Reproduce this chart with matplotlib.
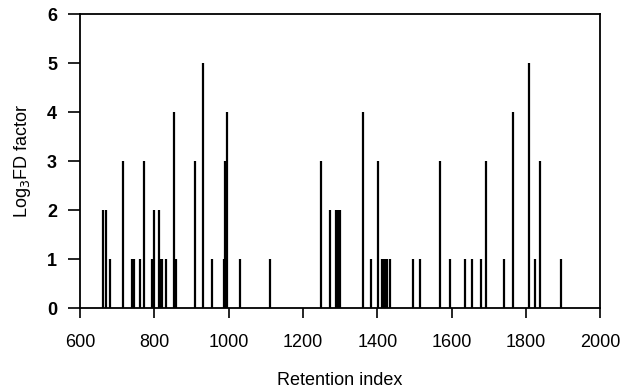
import matplotlib
matplotlib.use("Agg")
import matplotlib.pyplot as plt

plt.rcParams['font.family'] = ['Liberation Sans', 'DejaVu Sans']

# retention indices and log3 FD factors
ri = [662, 670, 682, 717, 741, 746, 762, 772, 794, 799, 814, 817, 822, 833,
      852, 859, 910, 932, 955, 987, 990, 997, 1032, 1111, 1249, 1273, 1290,
      1295, 1300, 1363, 1383, 1402, 1412, 1418, 1423, 1427, 1434, 1495, 1514,
      1569, 1595, 1636, 1656, 1680, 1693, 1740, 1765, 1809, 1825, 1837, 1893]
fd = [2, 2, 1, 3, 1, 1, 1, 3, 1, 2, 2, 1, 1, 1,
      4, 1, 3, 5, 1, 1, 3, 4, 1, 1, 3, 2, 2,
      2, 2, 4, 1, 3, 1, 1, 1, 1, 1, 1, 1,
      3, 1, 1, 1, 1, 3, 1, 4, 5, 1, 3, 1]

fig = plt.figure(figsize=(6.24, 3.89), dpi=100)
ax = fig.add_axes([0.128, 0.208, 0.834, 0.756])

ax.vlines(ri, 0, fd, colors='black', linewidth=1.6)

ax.set_xlim(600, 2000)
ax.set_ylim(0, 6)
ax.set_xticks(range(600, 2001, 200))
ax.set_yticks(range(0, 7))
ax.tick_params(direction='out', width=1.2, labelsize=13)
ax.tick_params(axis='x', length=7.5, pad=11)
ax.tick_params(axis='y', length=8.5, pad=8)
for lab in ax.get_yticklabels():
    lab.set_fontweight('bold')
for s in ax.spines.values():
    s.set_linewidth(1.3)

ax.set_xlabel("Retention index", fontsize=13, labelpad=15)
ax.set_ylabel("Log$_3$FD factor", fontsize=13, labelpad=10)

fig.savefig("out.png", dpi=100)
